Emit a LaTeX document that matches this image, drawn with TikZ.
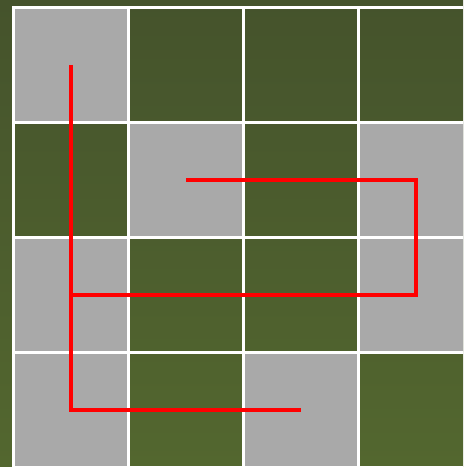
\documentclass[tikz,border=0pt]{standalone}
\usepackage{xcolor}
\usepackage{tikz}
\usetikzlibrary{positioning}
\definecolor{fieldtop}{HTML}{45532C}
\definecolor{fieldbot}{HTML}{53672F}
\definecolor{cellgray}{HTML}{A9A9A9}

\begin{document}
\begin{tikzpicture}[cell/.style={rectangle, draw=white, line width=0.75pt, minimum size=1cm, inner sep=0pt, outer sep=0pt},
		free/.style={cell, fill=cellgray},
		route/.style={draw=red, line width=0.8pt}]
			\useasboundingbox (-0.1174,0.0652) rectangle (3.9087,-3.9957);
			\clip (-0.1174,0.0652) rectangle (3.9087,-3.9957);
			\shade [top color=fieldtop, bottom color=fieldbot] (-0.1174,0.0652) rectangle (3.9087,-3.9957);
			% board, row by row
			\foreach \r/\c/\s in {0/0/free, 0/1/cell, 0/2/cell, 0/3/cell,
				1/0/cell, 1/1/free, 1/2/cell, 1/3/free,
				2/0/free, 2/1/cell, 2/2/cell, 2/3/free,
				3/0/free, 3/1/cell, 3/2/free, 3/3/cell}
			\node [\s] (c\r\c) at (\c+0.5,-\r-0.5) {};
			
			\draw [route] (c00.center) -- (c30.center) -- (c32.center);
			\draw [route] (c11.center) -- (c13.center) -- (c23.center) -- (c20.center);
			%\draw [route] (c20.center) -- (c30.center);
		\end{tikzpicture}
\end{document}
